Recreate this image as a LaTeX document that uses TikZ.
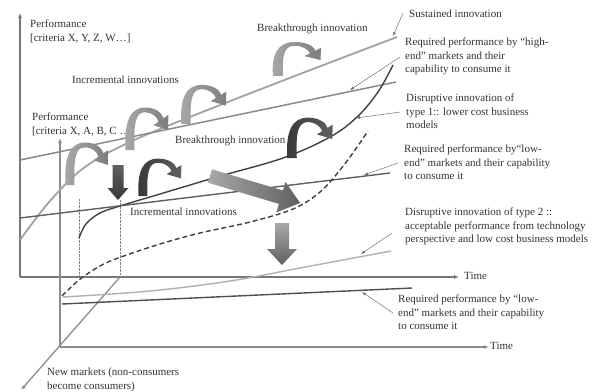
\documentclass[tikz,border=0pt]{standalone}
\usepackage{fontspec}
\setmainfont{Liberation Serif}
\usetikzlibrary{arrows.meta,calc}
\definecolor{txt}{HTML}{333333}
\definecolor{axisc}{HTML}{777777}
\definecolor{axisf}{HTML}{8C8C8C}
\definecolor{sustc}{HTML}{A2A2A2}
\definecolor{highc}{HTML}{8A8A8A}
\definecolor{typeone}{HTML}{404040}
\definecolor{lowc}{HTML}{5E5E5E}
\definecolor{typetwo}{HTML}{B0B0B0}
\definecolor{lowf}{HTML}{4E4E4E}
\definecolor{ptrc}{HTML}{707070}
\definecolor{lightA}{HTML}{A8A8A8}
\definecolor{lightB}{HTML}{7E7E7E}
\definecolor{darkA}{HTML}{383838}
\definecolor{darkB}{HTML}{606060}
\begin{document}
\begin{tikzpicture}[x=1pt,y=-1pt,
  lbl/.style={anchor=north west, inner sep=0pt, align=left, text=txt,
    font=\fontsize{11}{13.3}\selectfont},
  axisline/.style={draw=axisc, line width=1.6pt, -{Latex[length=5pt,width=4pt]}},
  frontaxis/.style={draw=axisf, line width=1.3pt, -{Latex[length=5pt,width=4pt]}},
  ptr/.style={draw=ptrc, line width=0.5pt, -{Latex[length=4pt,width=3pt]}},
  guide/.style={draw=gray, line width=0.4pt, densely dotted},
  pics/curly/.style n args={2}{code={
    \shade[left color=#1, right color=#2]
      (-4.5,0) .. controls (-6,-28) and (0,-42.5) .. (15,-42.5)
      .. controls (26,-42.5) and (32,-37) .. (33.5,-31.7)
      -- (38.4,-35.2) -- (38,-20) -- (23.6,-24.8) -- (28.5,-28.3)
      .. controls (27,-33) and (22,-37.8) .. (15,-37.8)
      .. controls (6,-37.8) and (3.5,-28) .. (4.5,0) -- cycle;
  }}
]
\useasboundingbox (0,0) rectangle (594,391);

% ---------- axes ----------
\coordinate (O1) at (20,277);
\coordinate (Y1) at (20,13);
\coordinate (X1) at (459,277);
\coordinate (O2) at (60,347);
\coordinate (Y2) at (60,138);
\coordinate (X2) at (489,347);
\coordinate (D0) at (120,277);
\coordinate (D1) at (21,390);
\draw[axisline] (O1) -- (Y1);
\draw[axisline] (O1) -- (X1);
\draw[frontaxis] (O2) -- (Y2);
\draw[frontaxis] (O2) -- (X2);
\draw[frontaxis] (D0) -- (D1);

% dotted guides
\coordinate (G1t) at (79,199);
\coordinate (G1b) at (79,277);
\coordinate (G2t) at (120,200);
\coordinate (G2b) at (120,277);
\draw[guide] (G1t) -- (G1b);
\draw[guide] (G2t) -- (G2b);

% ---------- curves and lines ----------
% sustained innovation
\draw[sustc, line width=1.8pt] plot[smooth, tension=0.6] coordinates
  {(20,240) (50,201) (85,167) (130,142) (200,113) (300,74) (397,37)};
% required high-end
\draw[highc, line width=1.5pt] (20,160) -- (396,82);
% disruptive type 1
\draw[typeone, line width=1.4pt] plot[smooth, tension=0.6] coordinates
  {(79,238) (86,224) (100,213) (120,206) (150,197) (217,177) (283,158) (330,137) (357,117) (378,92) (393,65)};
% required low-end (back)
\draw[lowc, line width=1.4pt] (20,218) -- (390,173);
% dashed type 2 curve
\draw[typeone, line width=1.4pt, dash pattern=on 5pt off 3pt] plot[smooth, tension=0.6] coordinates
  {(62,296) (79,280) (100,266) (121,257) (160,244) (200,233) (250,222) (293,209) (320,192) (340,170) (355,150) (368,131)};
% disruptive type 2 light line
\draw[typetwo, line width=1.4pt] plot[smooth, tension=0.6] coordinates
  {(63,297) (150,291) (230,281) (300,268) (391,251)};
% required low-end (front)
\draw[lowf, line width=1.4pt] (62,304) -- (412,288);

% ---------- labels ----------
\node[lbl] (perf1) at (30,20) {Performance\\{}[criteria X, Y, Z, W…]};
\node[lbl] (brk1) at (257,24) {Breakthrough innovation};
\node[lbl] (inc1) at (72,76) {Incremental innovations};
\node[lbl] (perf2) at (32,113) {Performance\\{}[criteria X, A, B, C …]};
\node[lbl] (brk2) at (175,136) {Breakthrough innovation};
\node[lbl] (inc2) at (130,208) {Incremental innovations};
\node[lbl] (sus) at (409,10) {Sustained innovation};
\node[lbl] (hi) at (405,38) {Required performance by “high-\\end” markets and their\\capability to consume it};
\node[lbl] (done) at (406,94) {Disruptive innovation of\\type 1:: lower cost business\\models};
\node[lbl] (loone) at (404,145) {Required performance by“low-\\end” markets and their capability\\to consume it};
\node[lbl] (dtwo) at (405,208) {Disruptive innovation of type 2 ::\\acceptable performance from technology\\perspective and low cost business models};
\node[lbl] (lotwo) at (398,295) {Required performance by “low-\\end” markets and their capability\\to consume it};
\node[lbl] (time1) at (464,272) {Time};
\node[lbl] (time2) at (490,342) {Time};
\node[lbl] (newm) at (47,368) {New markets (non-consumers\\become consumers)};

% ---------- pointer arrows ----------
\coordinate (p1s) at (403,13);  \coordinate (p1e) at (393,36);
\coordinate (p2s) at (400,57);  \coordinate (p2e) at (350,90);
\coordinate (p3s) at (400,112); \coordinate (p3e) at (356,118);
\coordinate (p4s) at (398,163); \coordinate (p4e) at (364,175);
\coordinate (p5s) at (392,233); \coordinate (p5e) at (361,254);
\coordinate (p6s) at (393,313); \coordinate (p6e) at (362,292);
\draw[ptr] (p1s) -- (p1e);
\draw[ptr] (p2s) -- (p2e);
\draw[ptr] (p3s) -- (p3e);
\draw[ptr] (p4s) -- (p4e);
\draw[ptr] (p5s) -- (p5e);
\draw[ptr] (p6s) -- (p6e);

% ---------- curly innovation arrows ----------
\pic at (70,185) {curly={lightA}{lightB}};
\pic at (130,150) {curly={lightA}{lightB}};
\pic[xscale=1.05, yscale=0.92] at (186,124) {curly={lightA}{lightB}};
\pic[xscale=1.12, yscale=0.8] at (278,76) {curly={lightA}{lightB}};
\pic[yscale=0.88] at (143,196) {curly={darkA}{darkB}};
\pic[xscale=1.06, yscale=0.95] at (292,158) {curly={darkA}{darkB}};

% ---------- big straight arrows ----------
\shade[top color=darkB, bottom color=darkA]
  (112.5,165) -- (123.5,165) -- (123.5,188) -- (128.5,188) -- (118,200)
  -- (107.5,188) -- (112.5,188) -- cycle;
\shade[top color=lightA, bottom color=darkB]
  (275,223) -- (289,223) -- (289,249) -- (297,249) -- (282,265)
  -- (267,249) -- (275,249) -- cycle;
\shade[left color=lightA, right color=darkB]
  (212.0,169.3) -- (282.9,190.5) -- (285.5,181.9) -- (300.1,203.0)
  -- (276.3,212.5) -- (278.9,203.9) -- (208.0,182.7) -- cycle;
\end{tikzpicture}
\end{document}
